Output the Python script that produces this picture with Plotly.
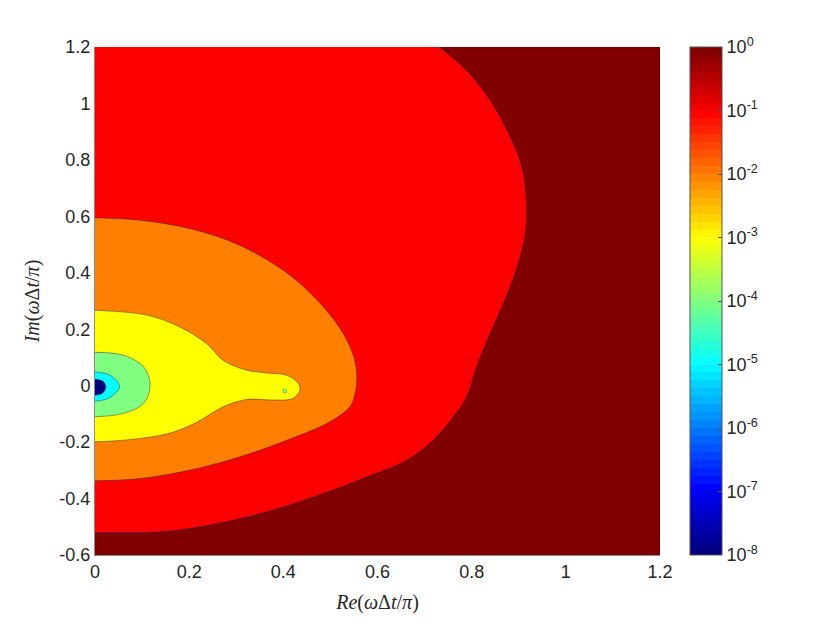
import plotly.graph_objects as go

# contour bands of the error level (log10)
levels = [0, -1, -2, -3, -4, -5, -8]
band_colors = ['#800000', '#ff0000', '#ff8000', '#ffff00', '#80ff80', '#00ffff', '#000080']

# red band (10^-1) outer boundary, from top edge down to the left edge
red_x = [0.731, 0.789, 0.839, 0.881, 0.906, 0.916, 0.913, 0.895, 0.870, 0.839, 0.810,
         0.789, 0.761, 0.718, 0.662, 0.573, 0.456, 0.365, 0.294, 0.223, 0.159, 0.103, 0.0]
red_y = [1.2, 1.117, 1.011, 0.884, 0.778, 0.648, 0.532, 0.414, 0.303, 0.185, 0.067,
         -0.040, -0.110, -0.193, -0.264, -0.326, -0.399, -0.447, -0.476, -0.500, -0.515, -0.520, -0.520]

# orange band (10^-2)
orange_x = [0.0, 0.096, 0.202, 0.308, 0.414, 0.485, 0.527, 0.548, 0.556, 0.552, 0.541,
            0.499, 0.414, 0.308, 0.202, 0.096, 0.0]
orange_y = [0.595, 0.586, 0.556, 0.497, 0.391, 0.279, 0.185, 0.110, 0.040, -0.030, -0.075,
            -0.128, -0.189, -0.252, -0.299, -0.329, -0.337]

# yellow band (10^-3) with the tongue towards Re = 0.43
yellow_x = [0.0, 0.110, 0.180, 0.237, 0.272, 0.322, 0.365, 0.407, 0.432, 0.435, 0.421,
            0.379, 0.322, 0.272, 0.216, 0.160, 0.096, 0.0]
yellow_y = [0.267, 0.250, 0.208, 0.149, 0.090, 0.055, 0.045, 0.037, 0.008, -0.016, -0.045,
            -0.051, -0.049, -0.075, -0.130, -0.168, -0.187, -0.199]

# green band (10^-4)
green_x = [0.0, 0.060, 0.103, 0.117, 0.103, 0.060, 0.0]
green_y = [0.118, 0.108, 0.067, 0.002, -0.063, -0.098, -0.110]

# cyan band (10^-5)
cyan_x = [0.0, 0.032, 0.052, 0.032, 0.0]
cyan_y = [0.049, 0.037, -0.002, -0.042, -0.055]

# navy core (10^-8)
navy_x = [0.0, 0.017, 0.023, 0.017, 0.0]
navy_y = [0.023, 0.016, -0.004, -0.025, -0.034]

# small isolated island inside the yellow tongue
island_x = [0.403]
island_y = [-0.019]

x_ticks = [0, 0.2, 0.4, 0.6, 0.8, 1, 1.2]
y_ticks = [-0.6, -0.4, -0.2, 0, 0.2, 0.4, 0.6, 0.8, 1, 1.2]
cbar_ticks = [0, -1, -2, -3, -4, -5, -6, -7, -8]


def jet(t):
    # matlab style jet colour for t in [0, 1]
    c = lambda v: max(0.0, min(1.0, v))
    r, g, b = c(1.5 - abs(4 * t - 3)), c(1.5 - abs(4 * t - 2)), c(1.5 - abs(4 * t - 1))
    return 'rgb(%d,%d,%d)' % (round(r * 255), round(g * 255), round(b * 255))


# 64 step banded colourscale like the matlab colorbar
n = 64
jet_scale = []
for i in range(n):
    col = jet(i / (n - 1))
    jet_scale.append([i / n, col])
    jet_scale.append([(i + 1) / n, col])


def band(xs, ys, color, top_y=None):
    # close the band outside the left edge so the spline stays clean on screen
    y0 = ys[0] if top_y is None else top_y
    px = xs + [-0.2, -0.2]
    py = ys + [ys[-1], y0]
    return go.Scatter(x=px, y=py, mode='lines', fill='toself', fillcolor=color,
                      line=dict(color='rgba(40,40,90,0.8)', width=0.6, shape='spline', smoothing=1),
                      hoverinfo='skip', showlegend=False)


fig = go.Figure()
fig.add_trace(band(red_x, red_y, band_colors[1], top_y=1.5))
fig.add_trace(band(orange_x, orange_y, band_colors[2]))
fig.add_trace(band(yellow_x, yellow_y, band_colors[3]))
fig.add_trace(band(green_x, green_y, band_colors[4]))
fig.add_trace(band(cyan_x, cyan_y, band_colors[5]))
fig.add_trace(band(navy_x, navy_y, band_colors[6]))

fig.add_trace(go.Scatter(x=island_x, y=island_y, mode='markers',
                         marker=dict(color=band_colors[4], size=4,
                                     line=dict(color='rgba(40,40,90,0.6)', width=0.5)),
                         hoverinfo='skip', showlegend=False))

tick_font = dict(family='Liberation Sans, Arial', size=18, color='#262626')
title_font = dict(family='Liberation Serif, DejaVu Serif, serif', size=20, color='#262626')

# invisible trace just to carry the colorbar
fig.add_trace(go.Scatter(
    x=[0.6, 0.6], y=[0.5, 0.5], mode='markers', hoverinfo='skip', showlegend=False,
    marker=dict(size=1, opacity=0, color=[-8, 0], cmin=-8, cmax=0, colorscale=jet_scale,
                showscale=True,
                colorbar=dict(x=1.053, xanchor='left', xpad=0, y=0, yanchor='bottom', ypad=0,
                              len=1, lenmode='fraction', thickness=32, thicknessmode='pixels',
                              outlinecolor='#555', outlinewidth=1,
                              tickvals=cbar_ticks,
                              ticktext=['10<sup>%d</sup>' % v for v in cbar_ticks],
                              ticks='inside', ticklen=4, tickcolor='#555',
                              tickfont=tick_font))))

fig.update_xaxes(range=[0, 1.2], tickvals=x_ticks, ticktext=[('%g' % v) for v in x_ticks],
                 showgrid=False, zeroline=False, showline=True, linecolor='#8c8c8c', linewidth=1,
                 ticks='', tickfont=tick_font,
                 title=dict(text='<i>Re</i>(<i>ω</i>Δ<i>t</i>/<i>π</i>)', font=title_font, standoff=14))
fig.update_yaxes(range=[-0.6, 1.2], tickvals=y_ticks, ticktext=[('%g' % v) for v in y_ticks],
                 showgrid=False, zeroline=False, showline=True, linecolor='#8c8c8c', linewidth=1,
                 ticks='', tickfont=tick_font,
                 title=dict(text='<i>Im</i>(<i>ω</i>Δ<i>t</i>/<i>π</i>)', font=title_font, standoff=14))

# the page body adds 8 px, so margins are shifted by that much
fig.update_layout(
    width=830, height=624,
    margin=dict(l=87, r=178, t=39, b=77),
    plot_bgcolor=band_colors[0],
    paper_bgcolor='white',
)

fig.write_html("out.html")
